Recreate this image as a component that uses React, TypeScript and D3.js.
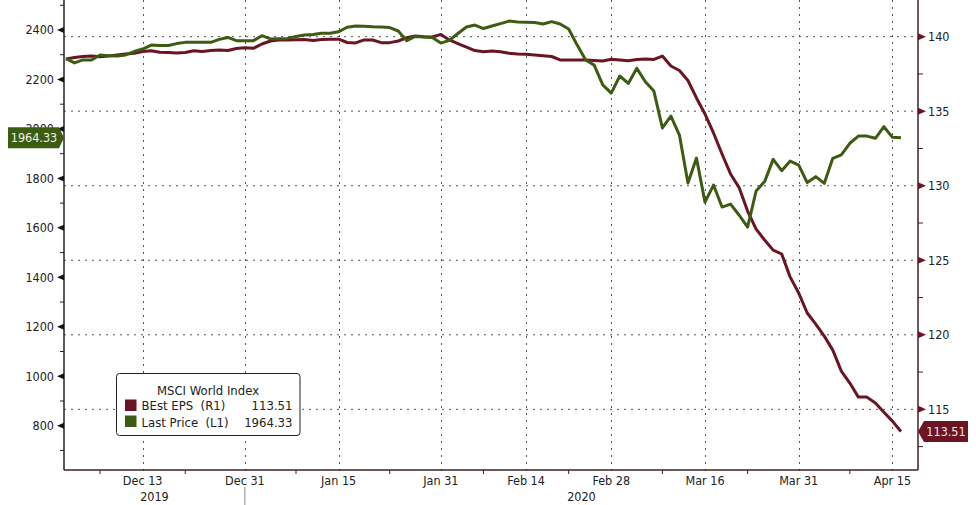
import React from "react";
import * as d3 from "d3";

// ---- data ----
const startDate = "2019-12-02";
const lastPrice: number[] = [
  2284, 2267, 2279, 2279, 2299, 2296, 2295, 2299, 2313, 2323,
  2339, 2337, 2337, 2345, 2350, 2350, 2350, 2350, 2362, 2370,
  2357, 2357, 2357, 2377, 2364, 2365, 2366, 2374, 2380, 2382,
  2387, 2387, 2393, 2411, 2416, 2415, 2413, 2412, 2410, 2396,
  2357, 2374, 2372, 2370, 2347, 2358, 2386, 2412, 2420, 2406,
  2416, 2426, 2436, 2432, 2431, 2430, 2424, 2434, 2424, 2404,
  2339, 2279, 2258, 2178, 2145, 2214, 2184, 2245, 2191, 2153,
  2004, 2052, 1975, 1781, 1882, 1704, 1773, 1684, 1696, 1652,
  1603, 1749, 1787, 1877, 1831, 1870, 1854, 1783, 1807, 1780,
  1881, 1895, 1942, 1971, 1971, 1962, 2009, 1966, 1964.33,
];
const bestEps: number[] = [
  138.5, 138.6, 138.67, 138.7, 138.66, 138.7, 138.77, 138.84, 138.89, 139.01,
  139.06, 138.95, 138.94, 138.91, 138.94, 139.05, 139.01, 139.07, 139.11, 139.07,
  139.21, 139.26, 139.22, 139.51, 139.71, 139.78, 139.78, 139.8, 139.81, 139.74,
  139.81, 139.83, 139.83, 139.61, 139.58, 139.78, 139.78, 139.6, 139.6, 139.71,
  139.93, 140.05, 139.99, 139.98, 140.15, 139.78, 139.54, 139.3, 139.07, 138.99,
  139.04, 138.99, 138.89, 138.84, 138.82, 138.77, 138.72, 138.67, 138.44, 138.44,
  138.44, 138.44, 138.4, 138.37, 138.48, 138.44, 138.39, 138.47, 138.5, 138.47,
  138.7, 138.03, 137.73, 137.06, 135.89, 134.81, 133.54, 132.13, 130.79, 129.88,
  128.3, 127.09, 126.36, 125.68, 125.42, 123.87, 122.8, 121.46, 120.72, 119.91,
  118.97, 117.56, 116.76, 115.82, 115.82, 115.42, 114.81, 114.21, 113.51,
];
const majorTickDates = [
  "2019-12-13", "2019-12-31", "2020-01-15", "2020-01-31", "2020-02-14",
  "2020-02-28", "2020-03-16", "2020-03-31", "2020-04-15",
];
const minorTickDates = [
  "2019-12-06", "2019-12-20", "2020-01-08", "2020-01-23", "2020-02-07",
  "2020-02-21", "2020-03-09", "2020-03-23", "2020-04-08",
];
const leftTicks = [800, 1000, 1200, 1400, 1600, 1800, 2000, 2200, 2400];
const leftMinor = [700, 900, 1100, 1300, 1500, 1700, 1900, 2100, 2300, 2500];
const rightTicks = [115, 120, 125, 130, 135, 140];
const rightMinor = [112.5, 117.5, 122.5, 127.5, 132.5, 137.5, 142.5];
const years = ["2019", "2020"];
const legendTitle = "MSCI World Index";
const seriesNames = ["BEst EPS  (R1)", "Last Price  (L1)"];

const RED = "#6a1424";
const GREEN = "#3d5c12";
const FONT = "'DejaVu Sans Condensed', 'DejaVu Sans', sans-serif";

const parse = d3.timeParse("%Y-%m-%d");
const fmtKey = d3.timeFormat("%Y-%m-%d");
const fmtLabel = d3.timeFormat("%b %-d");

export default function App() {
  const W = 976, H = 505;
  const L = 64, R = 918, B = 470, T = 0;

  // trading days (weekdays) from start
  const days: Date[] = [];
  let d = parse(startDate)!;
  while (days.length < lastPrice.length) {
    const wd = d.getDay();
    if (wd !== 0 && wd !== 6) days.push(d);
    d = d3.timeDay.offset(d, 1);
  }
  const idxOf = (s: string) => days.findIndex((x) => fmtKey(x) === s);

  const x = d3.scaleLinear().domain([-0.23, 100]).range([L, R]);
  const yL = d3.scaleLinear().domain([620.9, 2521.3]).range([B, T]);
  const yR = d3.scaleLinear().domain([110.93, 142.46]).range([B, T]);

  const priceLine = d3.line<number>().x((_, i) => x(i)).y((v) => yL(v));
  const epsLine = d3.line<number>().x((_, i) => x(i)).y((v) => yR(v));

  const lastP = lastPrice[lastPrice.length - 1];
  const lastE = bestEps[bestEps.length - 1];
  const yP = yL(lastP);
  const yE = yR(lastE);

  const sepIdx = idxOf("2019-12-31");
  const sepX = x(sepIdx);

  return (
    <div style={{ position: "fixed", left: 0, top: 0, background: "#fff" }}>
      <svg width={W} height={H} style={{ display: "block", fontFamily: FONT, fontStretch: "condensed" }}>
        <rect x={0} y={0} width={W} height={H} fill="#fff" />
        {/* horizontal grid at right-axis ticks */}
        {rightTicks.map((t) => (
          <line key={"hg" + t} x1={L} x2={R} y1={yR(t)} y2={yR(t)} stroke="#555" strokeWidth={1} strokeDasharray="2,5" />
        ))}
        {/* vertical grid */}
        {majorTickDates.map((s) => {
          const xx = Math.round(x(idxOf(s))) + 0.5;
          return <line key={"vg" + s} x1={xx} x2={xx} y1={T} y2={B + 4} stroke="#555" strokeWidth={1} strokeDasharray="2,5" />;
        })}
        {/* series */}
        <path d={epsLine(bestEps) || ""} fill="none" stroke={RED} strokeWidth={3} strokeLinejoin="round" />
        <path d={priceLine(lastPrice) || ""} fill="none" stroke={GREEN} strokeWidth={3} strokeLinejoin="round" />

        {/* axes */}
        <line x1={L} x2={L} y1={T} y2={B} stroke="#222" strokeWidth={1.5} />
        <line x1={R} x2={R} y1={T} y2={B} stroke="#3a2226" strokeWidth={1.5} />
        <line x1={L} x2={R} y1={B} y2={B} stroke="#3a2226" strokeWidth={1.5} />

        {/* left axis ticks */}
        {leftMinor.map((t) => (
          yL(t) >= T && yL(t) <= B ? <line key={"lm" + t} x1={L - 4} x2={L} y1={yL(t)} y2={yL(t)} stroke="#222" strokeWidth={1} /> : null
        ))}
        {leftTicks.map((t) => (
          <g key={"lt" + t}>
            <path d={`M${L - 7},${yL(t)} L${L},${yL(t) - 3} L${L},${yL(t) + 3} Z`} fill="#111" />
            <text x={54} y={yL(t)} dy="0.36em" textAnchor="end" fontSize={12.5} fill="#222">{t}</text>
          </g>
        ))}
        {/* right axis ticks */}
        {rightMinor.map((t) => (
          yR(t) >= T && yR(t) <= B ? <line key={"rm" + t} x1={R} x2={R + 5} y1={yR(t)} y2={yR(t)} stroke="#3a2226" strokeWidth={1} /> : null
        ))}
        {rightTicks.map((t) => (
          <g key={"rt" + t}>
            <path d={`M${R + 8},${yR(t)} L${R},${yR(t) - 3.5} L${R},${yR(t) + 3.5} Z`} fill={RED} />
            <text x={928} y={yR(t)} dy="0.36em" textAnchor="start" fontSize={12.5} fill="#222">{t}</text>
          </g>
        ))}
        {/* x axis ticks */}
        {minorTickDates.map((s) => {
          const xx = x(idxOf(s));
          return <line key={"xm" + s} x1={xx} x2={xx} y1={B} y2={B + 4} stroke="#3a2226" strokeWidth={1} />;
        })}
        {majorTickDates.map((s) => {
          const xx = x(idxOf(s));
          return (
            <text key={"xl" + s} x={xx} y={484.5} textAnchor="middle" fontSize={12.5} fill="#222">
              {fmtLabel(parse(s)!)}
            </text>
          );
        })}
        <line x1={sepX} x2={sepX} y1={487} y2={H} stroke="#888" strokeWidth={1} />
        <text x={(L + sepX) / 2} y={500.5} textAnchor="middle" fontSize={12.5} fill="#222">{years[0]}</text>
        <text x={(sepX + R) / 2} y={500.5} textAnchor="middle" fontSize={12.5} fill="#222">{years[1]}</text>

        {/* legend */}
        <rect x={116.5} y={373.5} width={183.5} height={62} rx={3} fill="#fff" stroke="#222" strokeWidth={1} />
        <text x={208} y={394.5} textAnchor="middle" fontSize={13} fill="#222">{legendTitle}</text>
        <rect x={125} y={399.5} width={11.5} height={11.5} fill={RED} />
        <text x={141.5} y={410} fontSize={13} fill="#222" style={{ whiteSpace: "pre" }}>{seriesNames[0]}</text>
        <text x={292.5} y={410} textAnchor="end" fontSize={13} fill="#222">{lastE.toFixed(2)}</text>
        <rect x={125} y={415.5} width={11.5} height={11.5} fill={GREEN} />
        <text x={141.5} y={426.5} fontSize={13} fill="#222" style={{ whiteSpace: "pre" }}>{seriesNames[1]}</text>
        <text x={292.5} y={426.5} textAnchor="end" fontSize={13} fill="#222">{lastP.toFixed(2)}</text>

        {/* value tags */}
        <path d={`M8,${yP - 10.5} L59,${yP - 10.5} L64,${yP} L59,${yP + 10.5} L8,${yP + 10.5} Z`} fill={GREEN} />
        <text x={34} y={yP} dy="0.36em" textAnchor="middle" fontSize={12.5} fill="#eef3e4">{lastP.toFixed(2)}</text>
        <path d={`M${R},${yE} L${R + 6},${yE - 10.5} L968,${yE - 10.5} L968,${yE + 10.5} L${R + 6},${yE + 10.5} Z`} fill={RED} />
        <text x={946} y={yE} dy="0.36em" textAnchor="middle" fontSize={12.5} fill="#f3e6e8">{lastE.toFixed(2)}</text>
      </svg>
    </div>
  );
}
